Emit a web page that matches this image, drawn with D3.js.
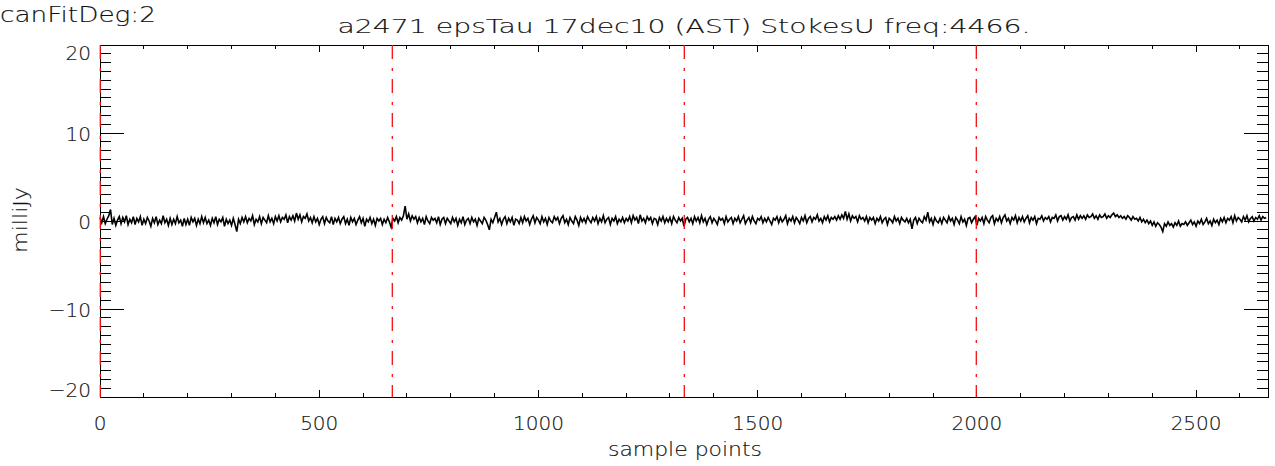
<!DOCTYPE html>
<html>
<head>
<meta charset="utf-8">
<script src="https://cdn.jsdelivr.net/npm/d3@7"></script>
<style>
  html, body { margin: 0; padding: 0; background: #fff; }
  svg { display: block; }
  text { font-family: "DejaVu Sans", "Liberation Sans", sans-serif; fill: #111; stroke: #111; stroke-width: 0.15; }
</style>
</head>
<body>
<svg id="chart" width="1275" height="466"></svg>
<script>
// ---------- data ----------
const sampleStep = 4;            // samples between stored values
const totalSamples = 2664;
const milliJy = [
  0.4,-0.2,0.5,-0.3,0.2,0.6,1.3,-0.4,0.3,-0.5,0.1,0.5,-0.3,0.4,-0.1,0.6,-0.4,0.2,-0.2,0.5,
  -0.4,0.3,-0.1,0.5,-0.5,0.2,-0.3,0.4,0.0,-0.6,0.3,-0.2,0.5,-0.4,0.1,-0.3,0.6,-0.2,0.2,-0.5,
  0.3,-0.4,0.2,-0.3,0.5,-0.2,0.1,-0.6,0.3,-0.4,0.2,-0.5,0.4,-0.1,0.3,-0.5,0.2,-0.3,0.5,-0.2,
  0.4,-0.3,0.1,-0.5,0.3,-0.2,0.5,-0.4,0.2,-0.1,0.4,-0.6,0.2,-0.3,0.1,-0.5,0.3,-0.4,-1.2,0.2,
  -0.3,0.4,-0.1,0.5,-0.2,0.3,0.0,0.6,-0.4,0.2,-0.1,0.5,-0.3,0.4,0.1,-0.2,0.6,-0.1,0.3,-0.3,
  0.5,0.0,0.6,-0.1,0.4,0.2,0.7,-0.2,0.5,0.1,0.6,0.0,0.9,0.2,0.7,-0.1,0.5,0.3,0.8,0.0,
  0.4,-0.2,0.5,-0.1,0.3,-0.4,0.2,0.5,-0.3,0.4,0.0,-0.2,0.5,-0.4,0.3,-0.1,0.4,-0.3,0.2,0.5,
  -0.3,0.2,-0.5,0.4,-0.1,0.3,-0.4,0.1,0.5,-0.2,0.3,-0.6,0.2,-0.1,0.4,-0.3,0.2,-0.5,0.3,0.0,
  0.3,-0.4,0.2,-0.2,0.4,-0.1,-0.7,0.3,0.0,0.5,-0.2,0.4,0.1,0.6,1.7,0.2,0.8,0.0,0.6,0.2,
  0.5,-0.2,0.4,-0.1,0.3,-0.4,0.5,0.0,-0.3,0.4,0.1,0.3,-0.2,0.5,-0.4,0.2,0.4,-0.3,0.3,0.0,
  -0.3,0.4,-0.1,0.3,-0.5,0.2,-0.2,0.5,-0.4,0.1,0.3,-0.3,0.4,-0.1,0.2,-0.5,0.3,0.0,-0.3,0.4,
  0.1,-0.4,-1.0,0.2,-0.2,0.4,1.0,-0.1,0.3,-0.4,0.2,0.5,-0.3,0.3,-0.1,0.4,-0.5,0.2,0.1,-0.3,
  0.4,-0.2,0.5,0.0,0.3,-0.4,0.2,0.6,-0.2,0.4,0.1,-0.3,0.5,-0.1,0.3,-0.4,0.4,0.0,-0.2,0.5,
  0.1,0.4,-0.3,0.3,0.6,-0.2,0.2,-0.4,0.4,0.0,-0.3,0.5,0.1,-0.5,0.4,-0.1,0.3,-0.2,0.5,0.1,
  -0.2,0.4,0.0,0.5,-0.3,0.3,-0.1,0.6,-0.2,0.2,0.4,-0.4,0.3,0.0,0.5,-0.3,0.2,-0.1,0.4,-0.2,
  0.3,0.0,0.5,-0.2,0.6,0.1,0.4,-0.3,0.7,0.0,0.3,-0.2,0.5,0.1,0.4,-0.3,0.3,0.2,-0.4,0.4,
  0.0,0.5,-0.2,0.3,-0.1,0.4,-0.3,0.5,0.1,-0.2,0.4,0.0,0.3,-0.6,0.2,0.4,-0.1,0.3,-0.3,0.5,
  0.0,0.4,-0.2,0.6,-0.1,0.3,-0.4,0.2,0.5,-0.2,0.3,0.0,-0.4,0.4,0.1,0.3,-0.3,0.5,-0.1,0.2,
  0.4,-0.3,0.3,0.0,0.5,-0.2,0.2,0.6,-0.3,0.1,0.4,-0.2,0.5,0.0,-0.3,0.3,0.1,0.5,-0.2,0.3,
  -0.1,0.4,0.0,-0.4,0.3,0.1,0.5,-0.2,0.4,-0.1,0.2,0.6,-0.3,0.3,0.0,0.5,-0.2,0.4,0.1,-0.3,
  0.4,0.0,0.6,-0.2,0.3,0.5,-0.1,0.4,0.2,0.7,0.0,0.3,-0.2,0.5,0.1,0.6,-0.1,0.4,0.2,0.5,
  0.1,0.6,0.2,0.7,0.3,1.1,0.2,0.8,0.0,0.6,0.3,0.5,-0.1,0.6,0.2,0.4,0.0,0.5,-0.2,0.4,
  0.1,0.4,-0.3,0.3,0.0,0.5,-0.2,0.2,0.4,-0.4,0.3,0.1,-0.2,0.5,0.0,0.3,-0.3,0.4,0.1,-0.1,
  0.3,-0.2,0.2,-0.9,0.1,0.4,-0.3,0.3,0.0,-0.2,0.5,0.1,1.0,-0.1,0.3,-0.4,0.4,0.0,-0.2,0.3,
  -0.3,0.4,0.1,-0.2,0.5,0.0,0.3,-0.4,0.4,0.1,-0.3,0.5,-0.1,0.2,-0.5,0.3,0.4,-0.2,0.2,0.5,
  -0.5,0.3,0.0,0.4,-0.3,0.5,0.1,-0.2,0.4,0.6,-0.3,0.3,0.0,0.5,-0.2,0.4,0.7,0.0,0.3,-0.3,
  0.4,0.1,0.6,-0.2,0.4,0.0,0.5,-0.1,0.3,0.6,-0.2,0.4,0.1,0.5,-0.3,0.3,0.2,0.6,0.0,0.4,
  0.2,0.5,-0.1,0.4,0.3,0.7,0.0,0.5,0.6,0.1,0.5,0.2,0.7,0.0,0.4,0.5,0.1,0.7,0.2,0.6,
  0.3,0.6,0.2,0.7,0.4,0.5,0.8,0.3,0.6,0.2,0.7,0.4,0.5,0.8,0.3,0.6,0.4,0.7,0.9,0.5,
  0.7,0.4,0.6,0.3,0.5,0.2,0.6,0.4,0.1,0.5,0.2,0.3,0.0,0.4,-0.1,0.2,-0.2,0.1,-0.3,0.0,
  -0.5,-0.1,-0.6,-0.2,-0.4,-0.7,-1.2,-0.3,-0.6,-0.1,-0.5,-0.3,-0.7,-0.2,-0.5,0.0,-0.6,-0.3,-0.4,-0.1,
  -0.5,-0.2,0.1,-0.4,-0.1,-0.6,0.0,-0.3,0.2,-0.4,-0.1,0.3,-0.3,0.0,-0.5,0.2,-0.2,0.1,-0.4,0.3,
  -0.1,0.4,-0.2,0.3,0.1,0.5,-0.2,0.6,0.0,0.4,0.2,-0.1,0.5,0.1,0.6,-0.1,0.3,0.5,0.0,0.4,
  0.2,0.6,0.1,0.5,0.3,0.4
];
const segmentMarks = [0, 666, 1332, 1998];
const xMajorTicks = [0, 500, 1000, 1500, 2000, 2500];
const yMajorTicks = [-20, -10, 0, 10, 20];
const titleText = "a2471 epsTau 17dec10 (AST) StokesU freq:4466.";
const cornerText = "canFitDeg:2";
const xLabel = "sample points";
const yLabel = "milliJy";

// ---------- layout ----------
const svg = d3.select("#chart");
const L = 100, R = 1268, T = 45, B = 397;
const x = d3.scaleLinear().domain([0, totalSamples]).range([L, R]);
const y = d3.scaleLinear().domain([-20, 20]).range([B, T]);

svg.append("rect").attr("width", 1275).attr("height", 466).attr("fill", "#fff");

// data line
const pts = milliJy.map((v, i) => [i * sampleStep, v]);
svg.append("path")
  .datum(pts)
  .attr("fill", "none")
  .attr("stroke", "#000")
  .attr("stroke-width", 1.6)
  .attr("stroke-linejoin", "miter")
  .attr("d", d3.line().x(d => x(d[0])).y(d => y(d[1])));

// frame
const g = svg.append("g").attr("stroke", "#000").attr("stroke-width", 1).attr("shape-rendering", "crispEdges");
g.append("rect").attr("x", L).attr("y", T).attr("width", R - L).attr("height", B - T).attr("fill", "none");

// x ticks (bottom up, top down)
const xMinor = d3.range(0, totalSamples + 1, 100).filter(v => v % 500 !== 0);
xMajorTicks.forEach(v => {
  g.append("line").attr("x1", x(v)).attr("x2", x(v)).attr("y1", B).attr("y2", B - 7);
  g.append("line").attr("x1", x(v)).attr("x2", x(v)).attr("y1", T).attr("y2", T + 7);
});
xMinor.forEach(v => {
  g.append("line").attr("x1", x(v)).attr("x2", x(v)).attr("y1", B).attr("y2", B - 4);
  g.append("line").attr("x1", x(v)).attr("x2", x(v)).attr("y1", T).attr("y2", T + 4);
});

// y ticks (left rightward, right leftward)
const yMinor = d3.range(-20, 21, 1).filter(v => v % 10 !== 0);
yMajorTicks.forEach(v => {
  g.append("line").attr("x1", L).attr("x2", L + 24).attr("y1", y(v)).attr("y2", y(v));
  g.append("line").attr("x1", R).attr("x2", R - 24).attr("y1", y(v)).attr("y2", y(v));
});
yMinor.forEach(v => {
  g.append("line").attr("x1", L).attr("x2", L + 11).attr("y1", y(v)).attr("y2", y(v));
  g.append("line").attr("x1", R).attr("x2", R - 11).attr("y1", y(v)).attr("y2", y(v));
});

// red dash-dot segment markers
svg.append("g").selectAll("line").data(segmentMarks).join("line")
  .attr("x1", d => x(d) + 0.3).attr("x2", d => x(d) + 0.3)
  .attr("y1", T).attr("y2", B)
  .attr("stroke", "#ee1111")
  .attr("stroke-width", 1.3)
  .attr("stroke-dasharray", "14,9,3,8");

// tick labels
const fs = 20;
svg.append("g").selectAll("text").data(xMajorTicks).join("text")
  .attr("x", d => x(d)).attr("y", 430)
  .attr("text-anchor", "middle")
  .attr("font-size", fs).attr("font-weight", 300)
  .text(d => d);

svg.append("g").selectAll("text").data(yMajorTicks).join("text")
  .attr("x", 91)
  .attr("y", d => Math.min(Math.max(y(d), T + 7.5), B - 7.5) + 7.5)
  .attr("text-anchor", "end")
  .attr("font-size", fs).attr("font-weight", 300)
  .text(d => d < 0 ? "\u2212" + Math.abs(d) : d);

// titles
svg.append("text").attr("x", 684).attr("y", 33)
  .attr("text-anchor", "middle").attr("font-size", fs).attr("font-weight", 300)
  .attr("textLength", 693).attr("lengthAdjust", "spacingAndGlyphs")
  .text(titleText);

svg.append("text").attr("x", 0).attr("y", 22)
  .attr("font-size", 21).attr("font-weight", 300)
  .attr("textLength", 156).attr("lengthAdjust", "spacingAndGlyphs")
  .text(cornerText);

svg.append("text").attr("x", 685).attr("y", 456)
  .attr("text-anchor", "middle").attr("font-size", fs).attr("font-weight", 300)
  .attr("textLength", 154).attr("lengthAdjust", "spacingAndGlyphs")
  .text(xLabel);

svg.append("text")
  .attr("transform", "translate(27,220) rotate(-90)")
  .attr("text-anchor", "middle").attr("font-size", fs).attr("font-weight", 300)
  .attr("textLength", 66).attr("lengthAdjust", "spacingAndGlyphs")
  .text(yLabel);
</script>
</body>
</html>
